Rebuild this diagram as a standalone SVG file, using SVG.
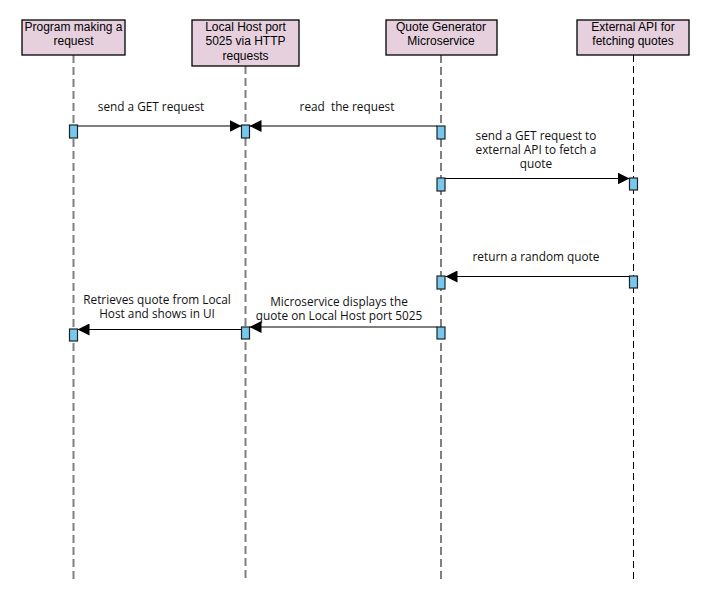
<svg xmlns="http://www.w3.org/2000/svg" width="713" height="595" viewBox="0 0 713 595">
<style>
.box{fill:#E6D0DE;stroke:#000;stroke-width:1.3}
.bt{font-family:"Liberation Sans",Arial,sans-serif;font-size:12px;fill:#000;text-anchor:middle}
.life{stroke:#808080;stroke-width:2;stroke-dasharray:8,4;fill:none}
.life2{stroke:#000;stroke-width:1;stroke-dasharray:7,4;fill:none}
.act{fill:#76C8EE;stroke:#222;stroke-width:1.2}
.msg{stroke:#000;stroke-width:1.2;fill:none}
.ml{font-family:"Open Sans","DejaVu Sans",sans-serif;font-size:11.8px;fill:#111;text-anchor:middle;white-space:pre}
</style>
<defs>
<marker id="ah" viewBox="0 0 12 12" refX="12" refY="6" markerWidth="12" markerHeight="12" markerUnits="userSpaceOnUse" orient="auto">
<path d="M0,0 L12,6 L0,12 Z" fill="#000"/>
</marker>
</defs>
<rect width="713" height="595" fill="#fff"/>
<g id="lifelines">
<line class="life" x1="73.5" y1="55" x2="73.5" y2="579"/>
<line class="life" x1="245.5" y1="66" x2="245.5" y2="579"/>
<line class="life" x1="441" y1="55" x2="441" y2="579"/>
<line class="life2" x1="633.5" y1="55" x2="633.5" y2="579"/>
</g>
<g id="node-program">
<rect class="box" x="22" y="20" width="103" height="35"/>
<text class="bt" x="73.5" y="31">Program making a</text>
<text class="bt" x="73.5" y="45">request</text>
</g>
<g id="node-localhost">
<rect class="box" x="192" y="20" width="107" height="46"/>
<text class="bt" x="245.5" y="31">Local Host port</text>
<text class="bt" x="245.5" y="45">5025 via HTTP</text>
<text class="bt" x="245.5" y="60">requests</text>
</g>
<g id="node-microservice">
<rect class="box" x="386" y="20" width="111" height="35"/>
<text class="bt" x="441" y="31">Quote Generator</text>
<text class="bt" x="441" y="45">Microservice</text>
</g>
<g id="node-external">
<rect class="box" x="577" y="20" width="112" height="35"/>
<text class="bt" x="633" y="31">External API for</text>
<text class="bt" x="633" y="45">fetching quotes</text>
</g>
<g id="activations">
<rect class="act" x="69.5" y="125" width="8" height="13"/>
<rect class="act" x="241.5" y="125" width="8" height="13"/>
<rect class="act" x="437" y="126" width="8" height="13"/>
<rect class="act" x="437" y="178" width="8" height="13"/>
<rect class="act" x="629.5" y="178" width="8" height="12"/>
<rect class="act" x="437" y="276" width="8" height="13"/>
<rect class="act" x="629.5" y="276" width="8" height="12"/>
<rect class="act" x="437" y="327" width="8" height="12"/>
<rect class="act" x="241.5" y="327" width="8" height="12"/>
<rect class="act" x="69.5" y="329" width="8" height="12"/>
</g>
<g id="connectors">
<line class="msg" x1="77.5" y1="126" x2="241.5" y2="126" marker-end="url(#ah)"/>
<line class="msg" x1="437" y1="126" x2="249.5" y2="126" marker-end="url(#ah)"/>
<line class="msg" x1="445" y1="178.5" x2="629.5" y2="178.5" marker-end="url(#ah)"/>
<line class="msg" x1="629.5" y1="276.5" x2="445.5" y2="276.5" marker-end="url(#ah)"/>
<line class="msg" x1="437" y1="327" x2="249.5" y2="327" marker-end="url(#ah)"/>
<line class="msg" x1="241.5" y1="329.5" x2="77.5" y2="329.5" marker-end="url(#ah)"/>
<text class="ml" x="151" y="111">send a GET request</text>
<text class="ml" x="347" y="111" xml:space="preserve">read  the request</text>
<text class="ml" x="536" y="140">send a GET request to</text>
<text class="ml" x="536" y="154">external API to fetch a</text>
<text class="ml" x="536" y="168">quote</text>
<text class="ml" x="536" y="261">return a random quote</text>
<text class="ml" x="339" y="306">Microservice displays the</text>
<text class="ml" x="339" y="320">quote on Local Host port 5025</text>
<text class="ml" x="157" y="304">Retrieves quote from Local</text>
<text class="ml" x="157" y="318">Host and shows in UI</text>
</g>
</svg>
